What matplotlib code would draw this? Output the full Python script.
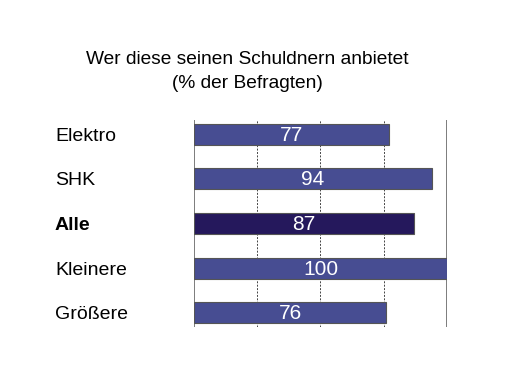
import matplotlib.pyplot as plt

plt.rcParams['font.family'] = ['Liberation Sans', 'DejaVu Sans']

# data
categories = ["Elektro", "SHK", "Alle", "Kleinere", "Größere"]
values = [77, 94, 87, 100, 76]
bar_colors = ["#474d92", "#474d92", "#25185c", "#474d92", "#474d92"]

fig = plt.figure(figsize=(5.06, 3.72), dpi=100)
ax = fig.add_axes([194/506, 1 - 327/372, (447 - 194)/506, (327 - 120)/372])

ypos = list(range(len(categories)))
ax.barh(ypos, values, height=0.47, color=bar_colors, edgecolor="#555555", linewidth=0.8, zorder=3)

for y, v in zip(ypos, values):
    ax.text(v / 2, y + 0.02, str(v), ha="center", va="center", color="white", fontsize=15, zorder=4)

ax.set_xlim(0, 100)
ax.set_ylim(4.32, -0.32)

# gridlines
for x in [25, 50, 75]:
    ax.axvline(x, color="#444444", linestyle=(0, (2, 1.5)), linewidth=0.7, zorder=1)
ax.axvline(0, color="#666666", linewidth=1.2, zorder=2)
ax.axvline(100, color="#666666", linewidth=1.2, zorder=2)

for s in ax.spines.values():
    s.set_visible(False)
ax.set_xticks([])
ax.set_yticks(ypos)
ax.set_yticklabels(categories, fontsize=14)
ax.tick_params(axis="y", length=0, pad=(194 - 55) * 0.72)
for lbl in ax.get_yticklabels():
    lbl.set_ha("left")
    if lbl.get_text() == "Alle":
        lbl.set_fontweight("bold")

fig.text(247/506, 1 - 60/372, "Wer diese seinen Schuldnern anbietet", ha="center", va="center", fontsize=13.8)
fig.text(247/506, 1 - 83/372, "(% der Befragten)", ha="center", va="center", fontsize=13.8)

fig.savefig("out.png", dpi=100)
